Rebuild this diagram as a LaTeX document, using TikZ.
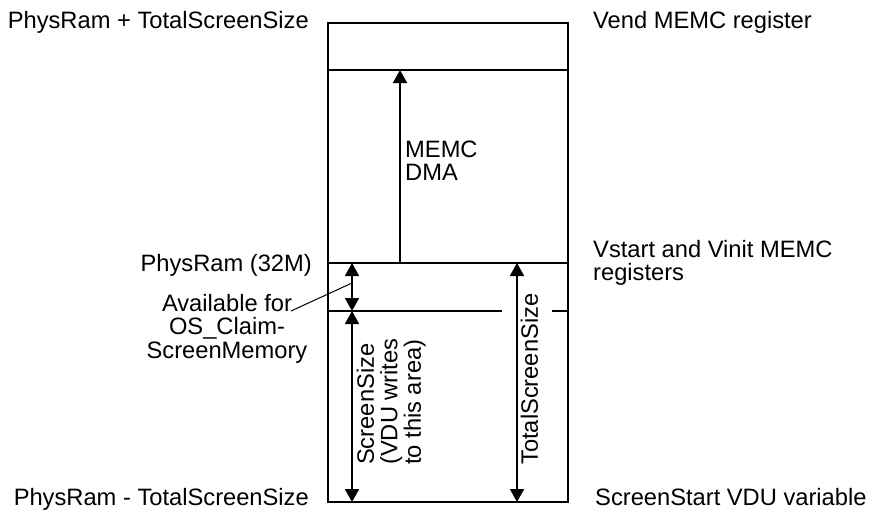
\documentclass[tikz,border=0pt]{standalone}
\usepackage{fontspec}
\setmainfont{Liberation Sans}
\usetikzlibrary{arrows.meta}
\begin{document}
\begin{tikzpicture}[x=1pt,y=-1pt,
  lbl/.style={inner sep=0pt, font=\fontsize{23.7}{23.5}\selectfont},
  heavy/.style={line width=2.9pt},
  light/.style={line width=1.8pt},
  tip/.tip={Triangle[width=14pt,length=13pt]},
  dimboth/.style={line width=1.7pt, tip-tip},
  dimone/.style={line width=1.7pt, -tip},
  leader/.style={line width=1pt}]
\useasboundingbox (0,0) rectangle (872,515);
% box corners and levels
\coordinate (tl) at (328,23);
\coordinate (br) at (568,502);
\coordinate (vendL) at (328,70);
\coordinate (vendR) at (568,70);
\coordinate (prL) at (328,263);
\coordinate (prR) at (568,263);
\coordinate (avL) at (328,311);
\coordinate (avG1) at (502,311);
\coordinate (avG2) at (552,311);
\coordinate (avR) at (568,311);
% arrow anchor points
\coordinate (dmaB) at (400,263);
\coordinate (dmaT) at (400,70);
\coordinate (aT) at (352,263);
\coordinate (aM) at (352,311);
\coordinate (aB) at (352,502);
\coordinate (tT) at (517,263);
\coordinate (tB) at (517,502);
\coordinate (leadA) at (291,311);
\coordinate (leadB) at (352,283);
% box
\draw[heavy] (tl) rectangle (br);
\draw[light] (vendL) -- (vendR);
\draw[heavy] (prL) -- (prR);
\draw[light] (avL) -- (avG1);
\draw[light] (avG2) -- (avR);
% arrows
\draw[dimone] (dmaB) -- (dmaT);
\draw[dimboth] (aT) -- (aM);
\draw[dimboth] (aM) -- (aB);
\draw[dimboth] (tT) -- (tB);
\draw[leader] (leadA) -- (leadB);
% left labels
\node[lbl, anchor=base east] (lt) at (309,28) {PhysRam + TotalScreenSize};
\node[lbl, anchor=base east] (lm) at (312,271) {PhysRam (32M)};
\node[lbl, anchor=north, align=center] (la) at (227,294) {Available for\\OS\_Claim-\\ScreenMemory};
\node[lbl, anchor=base east] (lb) at (309,505) {PhysRam - TotalScreenSize};
% right labels
\node[lbl, anchor=base west] (rt) at (593,28) {Vend MEMC register};
\node[lbl, anchor=north west, align=left] (rm) at (593,240) {Vstart and Vinit MEMC\\registers};
\node[lbl, anchor=base west] (rb) at (595,505) {ScreenStart VDU variable};
% inside labels
\node[lbl, anchor=north west, align=left] (dma) at (405,140.5) {MEMC\\DMA};
\node[lbl, anchor=north west, align=left, rotate=90] (ss) at (356.5,465) {ScreenSize\\(VDU writes\\to this area)};
\node[lbl, anchor=north west, rotate=90] (ts) at (520.5,465) {TotalScreenSize};
\end{tikzpicture}
\end{document}
